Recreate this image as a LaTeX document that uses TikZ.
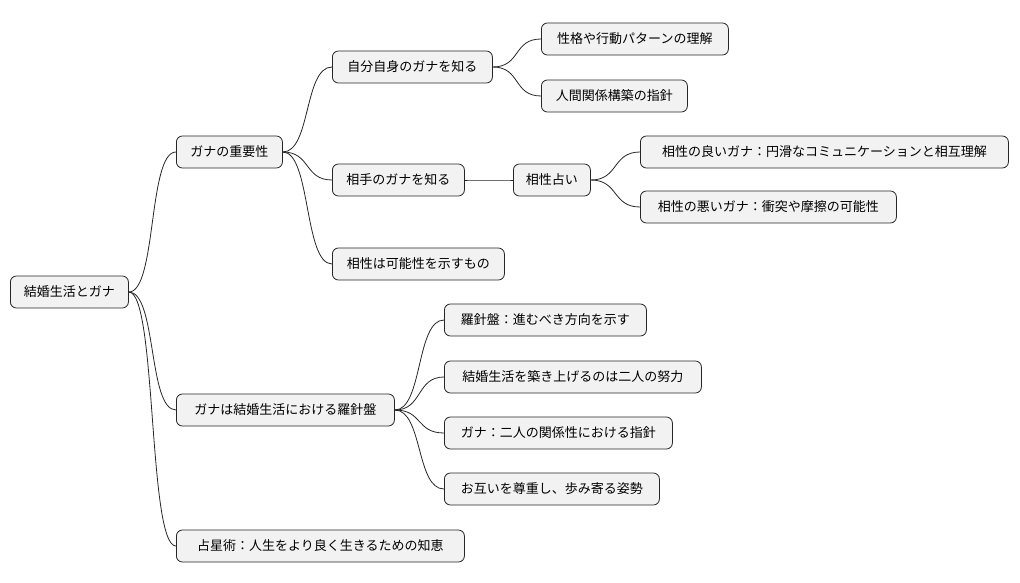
\documentclass[tikz,border=0pt]{standalone}
\usepackage{fontspec}
\setmainfont{Noto Sans CJK JP}
\begin{document}
\begin{tikzpicture}[x=1pt,y=-1pt,
  box/.style={draw=black!85,fill=black!5,rounded corners=6pt,line width=0.8pt,anchor=west,minimum height=32pt,inner xsep=0pt,font=\fontsize{13pt}{15pt}\selectfont},
  ln/.style={draw=black!85,line width=0.8pt}]
\useasboundingbox (0,0) rectangle (1020,583);
\newcommand\bx[5]{\node[box,minimum width=#4-#3] (#1) at (#3,#5) {#2};}
\bx{r}{結婚生活とガナ}{10}{128}{292}
\bx{a}{ガナの重要性}{176}{282}{152}
\bx{a1}{自分自身のガナを知る}{332}{492}{67}
\bx{a11}{性格や行動パターンの理解}{541}{728}{39}
\bx{a12}{人間関係構築の指針}{541}{687}{96}
\bx{a2}{相手のガナを知る}{332}{464}{180}
\bx{a21}{相性占い}{513}{590}{180}
\bx{a211}{相性の良いガナ：円滑なコミュニケーションと相互理解}{640}{1008}{152}
\bx{a212}{相性の悪いガナ：衝突や摩擦の可能性}{640}{896}{207}
\bx{a3}{相性は可能性を示すもの}{332}{504}{264}
\bx{b}{ガナは結婚生活における羅針盤}{176}{394}{410}
\bx{b1}{羅針盤：進むべき方向を示す}{444}{646}{320}
\bx{b2}{結婚生活を築き上げるのは二人の努力}{444}{701}{377}
\bx{b3}{ガナ：二人の関係性における指針}{444}{672}{433}
\bx{b4}{お互いを尊重し、歩み寄る姿勢}{444}{659}{489}
\bx{c}{占星術：人生をより良く生きるための知恵}{176}{464}{546}
\foreach \p/\c in {r/a,r/b,r/c,a/a1,a/a2,a/a3,a1/a11,a1/a12,a2/a21,a21/a211,a21/a212,b/b1,b/b2,b/b3,b/b4}{
  \draw[ln] (\p.east) .. controls ([xshift=28]\p.east) and ([xshift=-28]\c.west) .. (\c.west);
}
\end{tikzpicture}
\end{document}
